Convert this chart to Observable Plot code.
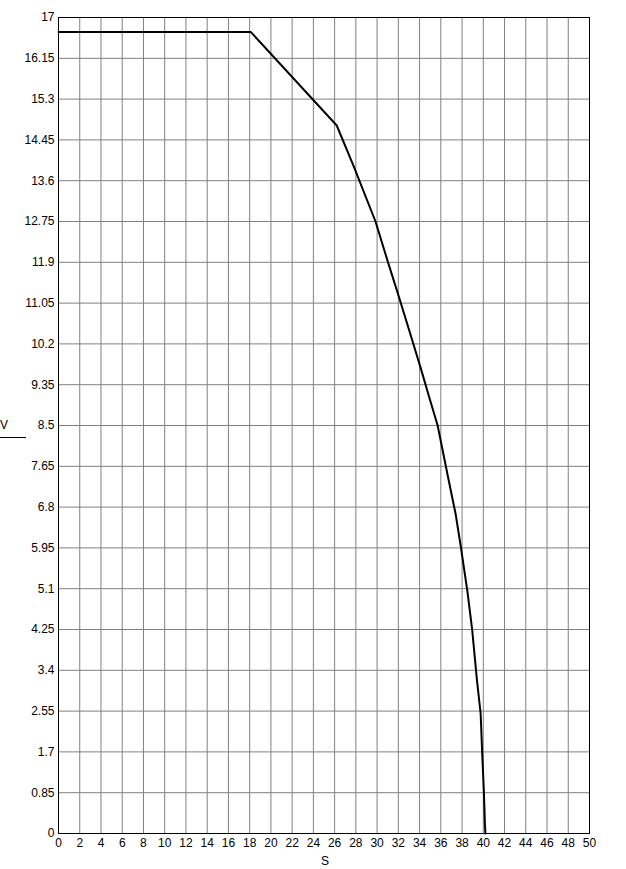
<!DOCTYPE html>
<html>
<head>
<meta charset="utf-8">
<script src="https://cdn.jsdelivr.net/npm/d3@7"></script>
<script src="https://cdn.jsdelivr.net/npm/@observablehq/plot@0.6"></script>
<style>
  html, body { margin: 0; padding: 0; background: #fff; }
  #chart svg { display: block; }
</style>
</head>
<body>
<div id="chart"></div>
<script>
// Curve S -> V
const S = [0, 18.1, 26.2, 27.8, 29.85, 31.0, 32.0, 33.0, 34.1, 35.0, 35.7, 36.75, 37.4, 37.9, 38.5, 38.95, 39.4, 39.75, 39.9, 40.05, 40.15, 40.2];
const V = [16.7, 16.7, 14.75, 13.9, 12.75, 11.92, 11.22, 10.5, 9.7, 9.02, 8.5, 7.35, 6.65, 5.95, 5.05, 4.25, 3.2, 2.5, 1.65, 0.9, 0.2, 0];

// Tick values
const xTicks = [0, 2, 4, 6, 8, 10, 12, 14, 16, 18, 20, 22, 24, 26, 28, 30, 32, 34, 36, 38, 40, 42, 44, 46, 48, 50];
const yTicks = [0, 0.85, 1.7, 2.55, 3.4, 4.25, 5.1, 5.95, 6.8, 7.65, 8.5, 9.35, 10.2, 11.05, 11.9, 12.75, 13.6, 14.45, 15.3, 16.15, 17];

const xLabel = "S";
const yLabel = "V";

const data = S.map((s, i) => ({s, v: V[i]}));
const FONT = "'Liberation Sans', Arial, sans-serif";

const chart = Plot.plot({
  width: 626,
  height: 869,
  marginLeft: 58,
  marginRight: 37,
  marginTop: 17,
  marginBottom: 36,
  style: {background: "#fff", fontFamily: FONT, fontSize: "12px", color: "#000"},
  x: {domain: [0, 50]},
  y: {domain: [0, 17]},
  marks: [
    Plot.gridX(xTicks, {stroke: "#808080", strokeOpacity: 1, strokeWidth: 1}),
    Plot.gridY(yTicks, {stroke: "#808080", strokeOpacity: 1, strokeWidth: 1}),
    Plot.axisX(xTicks, {tickSize: 0, tickPadding: 5, fontSize: 12, tickFormat: d => `${d}`, label: null}),
    Plot.axisY(yTicks, {tickSize: 0, tickPadding: 4, fontSize: 12, tickFormat: d => `${d}`, label: null}),
    Plot.frame({stroke: "#000", strokeWidth: 1}),
    Plot.line(data, {x: "s", y: "v", stroke: "#000", strokeWidth: 2, strokeLinejoin: "round"})
  ]
});

const svg = d3.select(chart);
svg.append("text")
  .attr("x", 4).attr("y", 429)
  .attr("font-family", FONT)
  .attr("font-size", 12).attr("fill", "#000")
  .text(yLabel);
svg.append("line")
  .attr("x1", 0).attr("x2", 26).attr("y1", 437.5).attr("y2", 437.5)
  .attr("stroke", "#000").attr("stroke-width", 1);
svg.append("text")
  .attr("x", 325).attr("y", 865).attr("text-anchor", "middle")
  .attr("font-family", FONT)
  .attr("font-size", 12).attr("fill", "#000")
  .text(xLabel);

document.getElementById("chart").appendChild(chart);
</script>
</body>
</html>
